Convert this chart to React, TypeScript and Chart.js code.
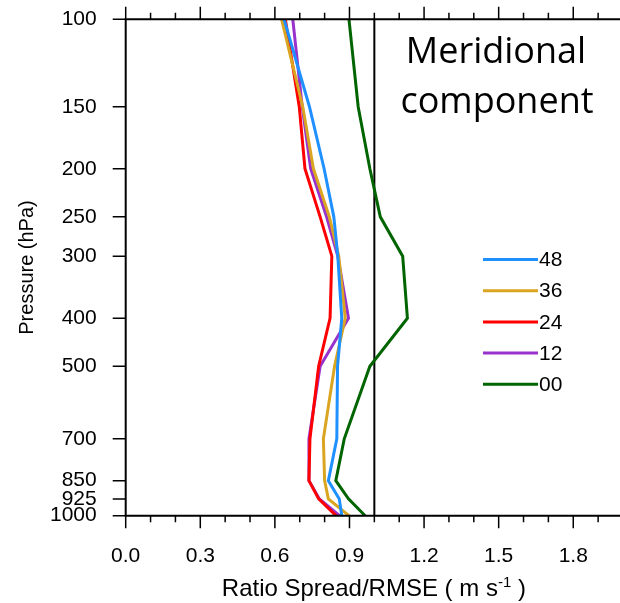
import React, { useEffect, useRef } from 'react';
import { Chart, registerables } from 'chart.js';

Chart.register(...registerables);

// ---- data ----
const pressureLevels = [100, 150, 200, 250, 300, 400, 500, 700, 850, 925, 1000];
const yTickLabels = ['100', '150', '200', '250', '300', '400', '500', '700', '850', '925', '1000'];
const xMajorTicks = [0, 0.3, 0.6, 0.9, 1.2, 1.5, 1.8];
const xTickLabels = ['0.0', '0.3', '0.6', '0.9', '1.2', '1.5', '1.8'];
const xMinorTicks = [0.1, 0.2, 0.4, 0.5, 0.7, 0.8, 1.0, 1.1, 1.3, 1.4, 1.6, 1.7, 1.9];
const xMin = 0;
const xMax = 1.988;
const referenceRatio = 1.0;

const seriesNames = ['48', '36', '24', '12', '00'];
const seriesColors = ['#1E90FF', '#DAA520', '#FF0000', '#9932CC', '#006400'];

const ratio48 = [0.637, 0.739, 0.798, 0.837, 0.853, 0.869, 0.852, 0.849, 0.815, 0.859, 0.869];
const ratio36 = [0.627, 0.712, 0.755, 0.819, 0.857, 0.883, 0.840, 0.795, 0.800, 0.815, 0.898];
const ratio24 = [0.642, 0.698, 0.721, 0.782, 0.829, 0.822, 0.776, 0.741, 0.737, 0.776, 0.846];
const ratio12 = [0.672, 0.710, 0.744, 0.808, 0.853, 0.896, 0.782, 0.737, 0.737, 0.779, 0.860];
const ratio00 = [0.898, 0.935, 0.982, 1.024, 1.114, 1.133, 0.982, 0.879, 0.845, 0.896, 0.963];
const seriesValues = [ratio48, ratio36, ratio24, ratio12, ratio00];

const titleLines = ['Meridional', 'component'];
const xTitleMain = 'Ratio Spread/RMSE ( m s';
const xTitleSup = '-1';
const xTitleEnd = ' )';
const yTitle = 'Pressure (hPa)';

const SANS = '"Liberation Sans", Arial, Helvetica, sans-serif';

const decorPlugin = {
  id: 'decor',
  beforeDatasetsDraw(chart: any) {
    const { ctx, chartArea: a, scales } = chart;
    const px = scales.x.getPixelForValue(referenceRatio);
    ctx.save();
    ctx.strokeStyle = '#000';
    ctx.lineWidth = 2;
    ctx.beginPath();
    ctx.moveTo(px, a.top);
    ctx.lineTo(px, a.bottom);
    ctx.stroke();
    ctx.restore();
  },
  afterDraw(chart: any) {
    const { ctx, chartArea: a, scales } = chart;
    const xs = scales.x;
    const ys = scales.y;
    ctx.save();
    ctx.strokeStyle = '#000';
    // axis lines
    ctx.lineWidth = 2;
    ctx.beginPath();
    ctx.moveTo(a.left, a.top);
    ctx.lineTo(chart.width, a.top);
    ctx.moveTo(a.left, a.bottom);
    ctx.lineTo(chart.width, a.bottom);
    ctx.moveTo(a.left, a.top - 1);
    ctx.lineTo(a.left, a.bottom + 1);
    ctx.stroke();
    // ticks
    ctx.lineWidth = 1.5;
    ctx.beginPath();
    xMajorTicks.forEach((v) => {
      const p = xs.getPixelForValue(v);
      ctx.moveTo(p, a.bottom);
      ctx.lineTo(p, a.bottom + 12.5);
      ctx.moveTo(p, a.top);
      ctx.lineTo(p, a.top - 12.5);
    });
    xMinorTicks.forEach((v) => {
      const p = xs.getPixelForValue(v);
      ctx.moveTo(p, a.bottom);
      ctx.lineTo(p, a.bottom + 6.5);
      ctx.moveTo(p, a.top);
      ctx.lineTo(p, a.top - 6.5);
    });
    pressureLevels.forEach((v) => {
      const p = ys.getPixelForValue(v);
      ctx.moveTo(a.left, p);
      ctx.lineTo(a.left - 13, p);
    });
    ctx.stroke();

    // legend
    ctx.lineWidth = 3;
    ctx.font = `21px ${SANS}`;
    ctx.textAlign = 'left';
    ctx.textBaseline = 'middle';
    ctx.fillStyle = '#000';
    seriesNames.forEach((name, i) => {
      const y = 259.5 + i * 31.2;
      ctx.strokeStyle = seriesColors[i];
      ctx.beginPath();
      ctx.moveTo(483, y);
      ctx.lineTo(538, y);
      ctx.stroke();
      ctx.fillText(name, 539, y + 1);
    });

    // panel title
    ctx.font = '36px "Open Sans", "Noto Sans", sans-serif';
    ctx.textAlign = 'center';
    ctx.textBaseline = 'alphabetic';
    ctx.fillText(titleLines[0], 496, 63);
    ctx.fillText(titleLines[1], 497, 113);

    // x title with superscript
    const mainFont = `24px ${SANS}`;
    const supFont = `15px ${SANS}`;
    ctx.font = mainFont;
    const w1 = ctx.measureText(xTitleMain).width;
    const w3 = ctx.measureText(xTitleEnd).width;
    ctx.font = supFont;
    const w2 = ctx.measureText(xTitleSup).width;
    const total = w1 + w2 + w3;
    const cx = (a.left + a.right) / 2 + 1;
    let sx = cx - total / 2;
    const by = 595.5;
    ctx.textAlign = 'left';
    ctx.font = mainFont;
    ctx.fillText(xTitleMain, sx, by);
    sx += w1;
    ctx.font = supFont;
    ctx.fillText(xTitleSup, sx, by - 9);
    sx += w2;
    ctx.font = mainFont;
    ctx.fillText(xTitleEnd, sx, by);

    // y title
    ctx.save();
    ctx.translate(27, (a.top + a.bottom) / 2);
    ctx.rotate(-Math.PI / 2);
    ctx.font = `20px ${SANS}`;
    ctx.textAlign = 'center';
    ctx.textBaseline = 'middle';
    ctx.fillText(yTitle, 0, 0);
    ctx.restore();

    ctx.restore();
  },
};

export default function App() {
  const canvasRef = useRef<HTMLCanvasElement | null>(null);

  useEffect(() => {
    document.body.style.margin = '0';
    document.body.style.overflow = 'hidden';
    const canvas = canvasRef.current;
    if (!canvas) return;

    const datasets = seriesNames.map((name, i) => ({
      label: name,
      data: pressureLevels.map((p, j) => ({ x: seriesValues[i][j], y: p })),
      borderColor: seriesColors[i],
      backgroundColor: seriesColors[i],
      borderWidth: 3,
      showLine: true,
      pointRadius: 0,
      pointHoverRadius: 0,
      fill: false,
      tension: 0,
    }));

    const chart = new Chart(canvas, {
      type: 'scatter',
      data: { datasets },
      plugins: [decorPlugin],
      options: {
        animation: false,
        responsive: true,
        maintainAspectRatio: false,
        layout: { padding: { top: 19.3, left: 0, right: 0, bottom: 0 } },
        plugins: {
          legend: { display: false },
          tooltip: { enabled: false },
          title: { display: false },
        },
        scales: {
          x: {
            type: 'linear',
            position: 'bottom',
            min: xMin,
            max: xMax,
            afterBuildTicks: (s: any) => {
              s.ticks = xMajorTicks.map((v) => ({ value: v }));
            },
            afterFit: (s: any) => {
              s.height = 87.3;
              s.paddingLeft = 0;
              s.paddingRight = 0;
            },
            ticks: {
              autoSkip: false,
              maxRotation: 0,
              minRotation: 0,
              padding: 1,
              color: '#000',
              font: { family: SANS, size: 21 },
              callback: (v: any) => {
                const idx = xMajorTicks.findIndex((t) => Math.abs(t - Number(v)) < 1e-6);
                return idx >= 0 ? xTickLabels[idx] : '';
              },
            },
            grid: { display: false, drawTicks: true, tickLength: 27 },
            border: { display: false },
          },
          y: {
            type: 'logarithmic',
            position: 'left',
            reverse: true,
            min: 100,
            max: 1000,
            afterBuildTicks: (s: any) => {
              s.ticks = pressureLevels.map((v) => ({ value: v }));
            },
            afterFit: (s: any) => {
              s.width = 125.7;
              s.paddingTop = 0;
              s.paddingBottom = 0;
            },
            ticks: {
              autoSkip: false,
              padding: 1,
              color: '#000',
              font: { family: SANS, size: 21 },
              callback: (v: any) => {
                const idx = pressureLevels.indexOf(Number(v));
                return idx >= 0 ? yTickLabels[idx] : '';
              },
            },
            grid: { display: false, drawTicks: true, tickLength: 28 },
            border: { display: false },
          },
        },
      } as any,
    });

    return () => {
      chart.destroy();
    };
  }, []);

  return (
    <div style={{ position: 'fixed', left: 0, top: 0, width: 620, height: 603, background: '#fff' }}>
      <canvas ref={canvasRef} />
    </div>
  );
}
